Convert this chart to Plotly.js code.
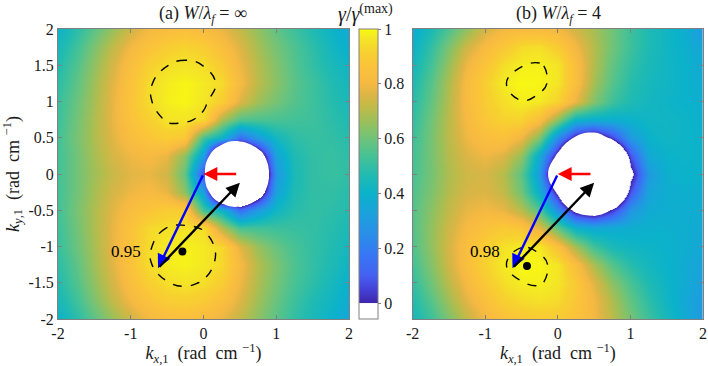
<!DOCTYPE html>
<html>
<head>
<meta charset="utf-8">
<script src="https://cdn.plot.ly/plotly-3.0.1.min.js"></script>
<style>
  html, body { margin: 0; padding: 0; background: #fff; }
  #plot { width: 708px; height: 366px; }
</style>
</head>
<body>
<div id="plot"></div>
<script>
// grid (rad/cm)
const kx = [-2, -1.75, -1.5, -1.25, -1, -0.75, -0.5, -0.25, 0, 0.25, 0.5, 0.75, 1, 1.25, 1.5, 1.75, 2]
const ky = [2, 1.75, 1.5, 1.25, 1, 0.75, 0.5, 0.25, 0, -0.25, -0.5, -0.75, -1, -1.25, -1.5, -1.75, -2]

// gamma / gamma_max, panel (a) W/lambda_f = inf, rows top to bottom
const gammaA = [
    [0.40, 0.48, 0.57, 0.66, 0.74, 0.80, 0.83, 0.84, 0.82, 0.78, 0.72, 0.65, 0.58, 0.52, 0.46, 0.41, 0.36],
    [0.44, 0.52, 0.62, 0.72, 0.80, 0.86, 0.90, 0.924, 0.90, 0.84, 0.76, 0.68, 0.61, 0.55, 0.49, 0.43, 0.38],
    [0.47, 0.55, 0.65, 0.75, 0.84, 0.91, 0.949, 0.96, 0.949, 0.89, 0.79, 0.70, 0.63, 0.56, 0.50, 0.45, 0.41],
    [0.49, 0.57, 0.67, 0.77, 0.86, 0.944, 0.975, 0.99, 0.97, 0.94, 0.81, 0.71, 0.64, 0.57, 0.52, 0.47, 0.43],
    [0.51, 0.59, 0.68, 0.78, 0.87, 0.944, 0.98, 0.99, 0.965, 0.90, 0.76, 0.67, 0.61, 0.56, 0.52, 0.48, 0.44],
    [0.52, 0.60, 0.69, 0.78, 0.86, 0.91, 0.96, 0.962, 0.935, 0.68, 0.55, 0.54, 0.54, 0.53, 0.52, 0.49, 0.46],
    [0.53, 0.61, 0.69, 0.77, 0.83, 0.87, 0.90, 0.88, 0.52, 0.40, 0.14, 0.30, 0.43, 0.49, 0.51, 0.50, 0.48],
    [0.53, 0.60, 0.68, 0.75, 0.79, 0.81, 0.78, 0.64, 0.30, -0.65, -0.55, -0.18, 0.33, 0.46, 0.50, 0.51, 0.49],
    [0.53, 0.60, 0.67, 0.73, 0.77, 0.78, 0.74, 0.58, 0.05, -0.60, -1.00, -0.42, 0.28, 0.45, 0.50, 0.51, 0.50],
    [0.53, 0.60, 0.68, 0.75, 0.79, 0.81, 0.78, 0.64, 0.30, -0.65, -0.55, -0.18, 0.33, 0.46, 0.50, 0.50, 0.48],
    [0.53, 0.61, 0.69, 0.77, 0.83, 0.87, 0.90, 0.90, 0.52, 0.40, 0.14, 0.30, 0.42, 0.48, 0.50, 0.49, 0.47],
    [0.52, 0.60, 0.69, 0.78, 0.86, 0.935, 0.952, 0.96, 0.947, 0.70, 0.54, 0.53, 0.52, 0.51, 0.50, 0.48, 0.45],
    [0.51, 0.59, 0.68, 0.78, 0.87, 0.945, 0.975, 0.985, 0.97, 0.936, 0.77, 0.66, 0.59, 0.54, 0.50, 0.47, 0.43],
    [0.49, 0.57, 0.67, 0.77, 0.86, 0.945, 0.975, 0.985, 0.97, 0.934, 0.81, 0.70, 0.62, 0.55, 0.50, 0.46, 0.41],
    [0.47, 0.55, 0.65, 0.75, 0.84, 0.91, 0.948, 0.96, 0.946, 0.90, 0.79, 0.69, 0.61, 0.54, 0.49, 0.44, 0.39],
    [0.44, 0.52, 0.62, 0.72, 0.80, 0.86, 0.90, 0.909, 0.89, 0.84, 0.76, 0.67, 0.59, 0.52, 0.46, 0.42, 0.37],
    [0.40, 0.48, 0.57, 0.66, 0.74, 0.80, 0.83, 0.84, 0.82, 0.78, 0.72, 0.64, 0.57, 0.50, 0.45, 0.40, 0.34]
]

// panel (b) W/lambda_f = 4
const gammaB = [
    [0.37, 0.45, 0.55, 0.65, 0.75, 0.80, 0.82, 0.82, 0.80, 0.74, 0.68, 0.60, 0.52, 0.46, 0.42, 0.38, 0.30],
    [0.40, 0.50, 0.62, 0.74, 0.82, 0.88, 0.94, 0.951, 0.90, 0.80, 0.70, 0.60, 0.52, 0.46, 0.42, 0.39, 0.34],
    [0.43, 0.53, 0.66, 0.79, 0.87, 0.95, 0.979, 0.984, 0.964, 0.84, 0.70, 0.58, 0.50, 0.45, 0.42, 0.40, 0.36],
    [0.46, 0.56, 0.69, 0.82, 0.91, 0.977, 0.995, 0.99, 0.965, 0.84, 0.68, 0.56, 0.48, 0.44, 0.42, 0.40, 0.37],
    [0.48, 0.58, 0.70, 0.82, 0.90, 0.95, 0.979, 0.971, 0.92, 0.78, 0.63, 0.52, 0.46, 0.43, 0.41, 0.40, 0.38],
    [0.50, 0.60, 0.71, 0.81, 0.88, 0.92, 0.92, 0.84, 0.64, 0.40, 0.38, 0.38, 0.40, 0.42, 0.42, 0.41, 0.39],
    [0.52, 0.61, 0.71, 0.79, 0.84, 0.85, 0.79, 0.62, 0.25, -0.04, -0.15, 0.05, 0.30, 0.40, 0.42, 0.41, 0.40],
    [0.53, 0.61, 0.70, 0.76, 0.79, 0.76, 0.65, 0.36, -0.05, -0.70, -0.85, -0.45, 0.08, 0.36, 0.40, 0.41, 0.40],
    [0.54, 0.61, 0.69, 0.74, 0.75, 0.70, 0.57, 0.30, -0.35, -0.60, -0.90, -0.60, -0.05, 0.30, 0.39, 0.40, 0.40],
    [0.55, 0.62, 0.70, 0.75, 0.76, 0.72, 0.60, 0.38, -0.04, -0.70, -0.85, -0.45, 0.08, 0.34, 0.38, 0.39, 0.38],
    [0.56, 0.64, 0.72, 0.78, 0.80, 0.78, 0.70, 0.55, 0.25, -0.06, -0.15, 0.03, 0.28, 0.37, 0.38, 0.38, 0.37],
    [0.56, 0.65, 0.74, 0.81, 0.86, 0.89, 0.87, 0.77, 0.58, 0.40, 0.36, 0.37, 0.38, 0.39, 0.39, 0.38, 0.36],
    [0.55, 0.65, 0.75, 0.84, 0.91, 0.955, 0.979, 0.973, 0.86, 0.68, 0.53, 0.45, 0.42, 0.41, 0.40, 0.38, 0.35],
    [0.53, 0.63, 0.74, 0.84, 0.92, 0.977, 0.995, 0.99, 0.967, 0.84, 0.69, 0.56, 0.48, 0.43, 0.40, 0.37, 0.33],
    [0.50, 0.60, 0.71, 0.81, 0.89, 0.95, 0.979, 0.984, 0.964, 0.89, 0.77, 0.64, 0.54, 0.46, 0.41, 0.37, 0.32],
    [0.47, 0.56, 0.67, 0.77, 0.85, 0.91, 0.94, 0.955, 0.94, 0.88, 0.80, 0.69, 0.58, 0.49, 0.42, 0.36, 0.30],
    [0.44, 0.52, 0.62, 0.72, 0.80, 0.85, 0.88, 0.89, 0.89, 0.86, 0.80, 0.71, 0.61, 0.52, 0.44, 0.37, 0.29]
]

// contour levels drawn dashed
const levelA = 0.95
const levelB = 0.98

// wave vectors: red, blue, black (tail -> head), same in both panels
const vecTail = [[0.47, 0], [0, 0], [-0.625, -1.3]]
const vecHead = [[0, 0], [-0.625, -1.3], [0.5, -0.12]]

// max-growth points
const dotA = [-0.29, -1.07]
const dotB = [-0.425, -1.27]

const xTicks = [-2, -1, 0, 1, 2]
const xTickText = ['-2', '-1', '0', '1', '2']
const yTicks = [-2, -1.5, -1, -0.5, 0, 0.5, 1, 1.5, 2]
const yTickText = ['-2', '-1.5', '-1', '-0.5', '0', '0.5', '1', '1.5', '2']
const cbTicks = [0, 0.2, 0.4, 0.6, 0.8, 1]
const cbTickText = ['0', '0.2', '0.4', '0.6', '0.8', '1']

// parula-like map, white below zero
const cmin = -0.057
const cmax = 1
const parula = [
    [0, '#3e26a8'], [0.05, '#4540d8'], [0.1, '#4560f2'], [0.18, '#3678f4'],
    [0.25, '#2a8ee8'], [0.33, '#1aa2dc'], [0.4, '#0bb2ca'], [0.47, '#22bbb0'],
    [0.54, '#48c294'], [0.6, '#6fc37a'], [0.66, '#98c05c'], [0.71, '#bcbb4a'],
    [0.76, '#dcb545'], [0.8, '#f5b942'], [0.86, '#fbc23b'], [0.92, '#f7d22f'],
    [0.97, '#f4e824'], [1, '#f9fb0e']
]
let norm = v => (v - cmin) / (cmax - cmin)
let colorscale = [[0, '#ffffff'], [norm(0) - 0.0005, '#ffffff']]
    .concat(parula.map(s => [norm(s[0]), s[1]]))

const serif = '"Liberation Serif", "DejaVu Serif", serif'
const ink = '#1a1a1a'
const frame = '#808080'
const sp = '\u00a0'

let heat = (z, xa, ya) => ({
    type: 'heatmap', x: kx, y: ky, z: z, xaxis: xa, yaxis: ya,
    coloraxis: 'coloraxis', zsmooth: 'best', hoverinfo: 'skip'
})

// smooth white outline of the gamma < 0 region
let hole = (z, xa, ya) => ({
    type: 'contour', x: kx, y: ky, z: z, xaxis: xa, yaxis: ya,
    showscale: false, hoverinfo: 'skip',
    contours: {type: 'constraint', operation: '>', value: 0},
    fillcolor: '#ffffff',
    line: {color: '#ffffff', width: 0, smoothing: 1.3}
})

let contour = (z, level, xa, ya) => ({
    type: 'contour', x: kx, y: ky, z: z, xaxis: xa, yaxis: ya,
    showscale: false, hoverinfo: 'skip',
    contours: {coloring: 'none', start: level, end: level, size: 1},
    line: {color: 'black', width: 1.4, dash: 'dash', smoothing: 1.3}
})

let dot = (p, xa, ya) => ({
    type: 'scatter', mode: 'markers', x: [p[0]], y: [p[1]], xaxis: xa, yaxis: ya,
    marker: {color: 'black', size: 8}, hoverinfo: 'skip', showlegend: false
})

let arrowColors = ['#ff0000', '#0000ff', '#000000']
let arrows = (xa, ya) => vecHead.map((h, i) => ({
    x: h[0], y: h[1], ax: vecTail[i][0], ay: vecTail[i][1],
    xref: xa, yref: ya, axref: xa, ayref: ya,
    showarrow: true, arrowhead: 2, arrowsize: 1.15, arrowwidth: 2.4,
    arrowcolor: arrowColors[i], standoff: 0, text: ''
}))

let axisBase = {
    range: [-2, 2], showgrid: false, zeroline: false,
    showline: true, linecolor: frame, linewidth: 1, mirror: 'ticks',
    ticks: 'inside', ticklen: 4, tickcolor: frame,
    tickfont: {family: serif, size: 16, color: ink}
}

let axisLabel = c => '<i>k</i><sub><i>' + c + '</i>,1</sub>' + sp + sp + '(rad' + sp + sp + 'cm' + sp + '<sup>\u22121</sup>)'
let xTitle = {text: axisLabel('x'), font: {family: serif, size: 18, color: ink}, standoff: 3}
let yTitle = {text: axisLabel('y'), font: {family: serif, size: 18, color: ink}, standoff: 5}

let layout = {
    width: 708, height: 366,
    margin: {l: 58, r: 5, t: 29, b: 47},
    font: {family: serif, color: ink},
    paper_bgcolor: '#ffffff', plot_bgcolor: '#ffffff',
    showlegend: false,
    xaxis: Object.assign({}, axisBase, {domain: [0, 0.4512], anchor: 'y', tickvals: xTicks, ticktext: xTickText, title: xTitle}),
    yaxis: Object.assign({}, axisBase, {domain: [0, 1], anchor: 'x', tickvals: yTicks, ticktext: yTickText, title: yTitle}),
    xaxis2: Object.assign({}, axisBase, {domain: [0.5499, 1], anchor: 'y2', tickvals: xTicks, ticktext: xTickText, title: xTitle}),
    yaxis2: Object.assign({}, axisBase, {domain: [0, 1], anchor: 'x2', tickvals: yTicks, showticklabels: false}),
    coloraxis: {
        colorscale: colorscale, cmin: cmin, cmax: cmax,
        colorbar: {
            x: 0.4667, xanchor: 'left', xpad: 0, ypad: 0,
            y: 0.5, yanchor: 'middle', len: 1, thickness: 19,
            outlinecolor: frame, outlinewidth: 1,
            tickvals: cbTicks, ticktext: cbTickText,
            ticks: 'outside', ticklen: 3, tickcolor: frame,
            tickfont: {family: serif, size: 16, color: ink}
        }
    },
    annotations: [
        {text: '(a) <i>W</i>/<i>λ<sub>f</sub></i> = ∞', xref: 'paper', yref: 'paper', x: 0.2248, y: 1.05,
         xanchor: 'center', yanchor: 'middle', showarrow: false, font: {family: serif, size: 18, color: ink}},
        {text: '(b) <i>W</i>/<i>λ<sub>f</sub></i> = 4', xref: 'paper', yref: 'paper', x: 0.7752, y: 1.05,
         xanchor: 'center', yanchor: 'middle', showarrow: false, font: {family: serif, size: 18, color: ink}},
        {text: '<i>γ</i>/<i>γ</i><sup>(max)</sup>', xref: 'paper', yref: 'paper', x: 0.477, y: 1.052,
         xanchor: 'center', yanchor: 'middle', showarrow: false, font: {family: serif, size: 20, color: ink}},
        {text: String(levelA), xref: 'x', yref: 'y', x: -1.06, y: -1.07, showarrow: false,
         font: {family: serif, size: 17, color: 'black'}},
        {text: String(levelB), xref: 'x2', yref: 'y2', x: -1.0, y: -1.07, showarrow: false,
         font: {family: serif, size: 17, color: 'black'}}
    ].concat(arrows('x', 'y'), arrows('x2', 'y2'))
}

let data = [
    heat(gammaA, 'x', 'y'), heat(gammaB, 'x2', 'y2'),
    hole(gammaA, 'x', 'y'), hole(gammaB, 'x2', 'y2'),
    contour(gammaA, levelA, 'x', 'y'), contour(gammaB, levelB, 'x2', 'y2'),
    dot(dotA, 'x', 'y'), dot(dotB, 'x2', 'y2')
]

Plotly.newPlot('plot', data, layout, {displayModeBar: false, staticPlot: true})
</script>
</body>
</html>
